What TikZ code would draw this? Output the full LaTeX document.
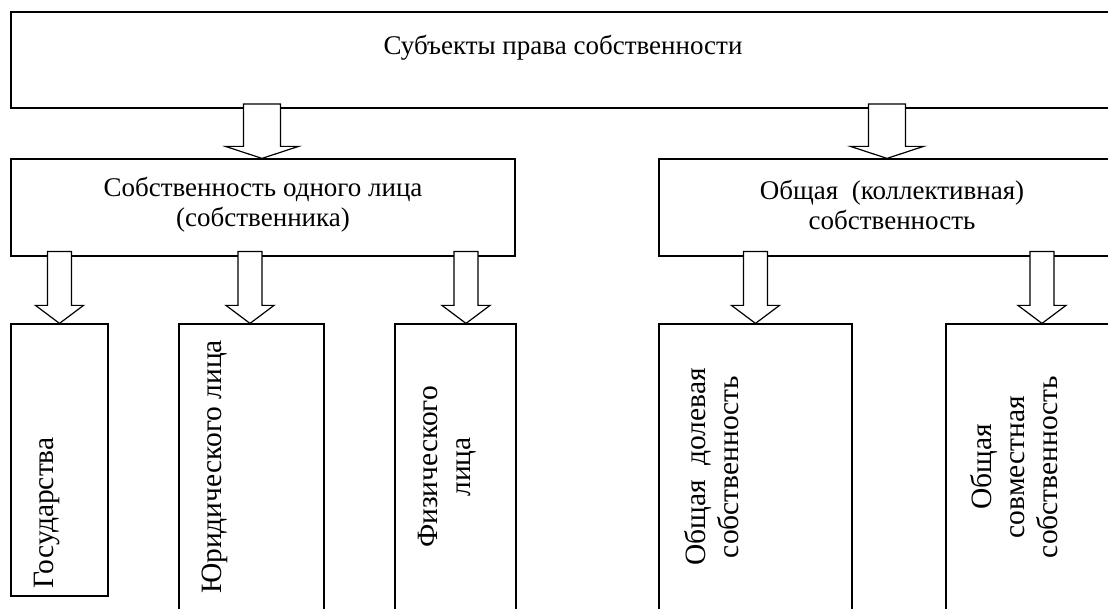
\documentclass[tikz,border=0pt]{standalone}
\usepackage{fontspec}
\setmainfont{Liberation Serif}
\usetikzlibrary{calc}

\begin{document}
\begin{tikzpicture}[
    x=1pt,
    y=-1pt,
    box/.style={
        draw,
        rectangle,
        line width=1.2pt,
        inner sep=0pt
    },
    topbox/.style={
        box,
        line width=2pt
    },
    txt/.style={
        inner sep=0pt,
        align=center,
        font=\fontsize{27}{30}\selectfont
    },
    vtxt/.style={
        txt,
        rotate=90,
        font=\fontsize{29.5}{33}\selectfont
    },
    blockarrow/.style n args={3}{
        draw,
        fill=white,
        line width=1.2pt,
        to path={let \p1=(\tikztostart), \p2=(\tikztotarget) in
            (\x2-#1,\y1+5pt) -- (\x2-#1,\y2+#3) -- (\x2-#2,\y2+#3) -- (\x2,\y2)
            -- (\x2+#2,\y2+#3) -- (\x2+#1,\y2+#3) -- (\x2+#1,\y1+5pt) -- cycle}
    },
    bigarrow/.style={blockarrow={18.5pt}{36.5pt}{12pt}},
    smallarrow/.style={blockarrow={12pt}{24pt}{18pt}}
]

\useasboundingbox (0,0) rectangle (1108,609);
\clip (0,0) rectangle (1108,609);

% top level
\node[topbox, minimum width=1104pt, minimum height=96pt] (top) at (563,60) {};

% second level
\node[box, minimum width=504pt, minimum height=97pt] (one) at (263,207.5) {};
\node[box, minimum width=466pt, minimum height=97pt] (common) at (892,207.5) {};

% third level
\node[box, minimum width=97pt, minimum height=272pt] (state) at (59.5,460) {};
\node[box, minimum width=145pt, minimum height=376pt] (legal) at (251.5,512) {};
\node[box, minimum width=121pt, minimum height=376pt] (natural) at (455.5,512) {};
\node[box, minimum width=193pt, minimum height=376pt] (shared) at (755.5,512) {};
\node[box, minimum width=192pt, minimum height=376pt] (joint) at (1042,512) {};

% block arrows
\draw[bigarrow] (top.south) to ([xshift=-1pt]one.north);
\draw[bigarrow] (top.south) to ([xshift=-5pt]common.north);

\draw[smallarrow] (one.south) to (state.north);
\draw[smallarrow] (one.south) to ([xshift=-1.5pt]legal.north);
\draw[smallarrow] (one.south) to ([xshift=10.5pt]natural.north);

\draw[smallarrow] (common.south) to (shared.north);
\draw[smallarrow] (common.south) to (joint.north);

% texts
\node[txt, anchor=base] (ttop) at (563,55) {Субъекты права собственности};
\node[txt] (tone) at (263,205) {Собственность одного лица\\(собственника)};
\node[txt] (tcommon) at (892,205) {Общая\ \ (коллективная)\\собственность};

\node[vtxt] (tstate) at (47,513) {Государства};
\node[vtxt] (tlegal) at (215,467) {Юридического лица};
\node[vtxt] (tnatural) at (447,467) {Физического\\лица};
\node[vtxt] (tshared) at (712,467) {Общая\ \ долевая\\собственность};
\node[vtxt] (tjoint) at (1014,467) {Общая\\совместная\\собственность};

\end{tikzpicture}
\end{document}
